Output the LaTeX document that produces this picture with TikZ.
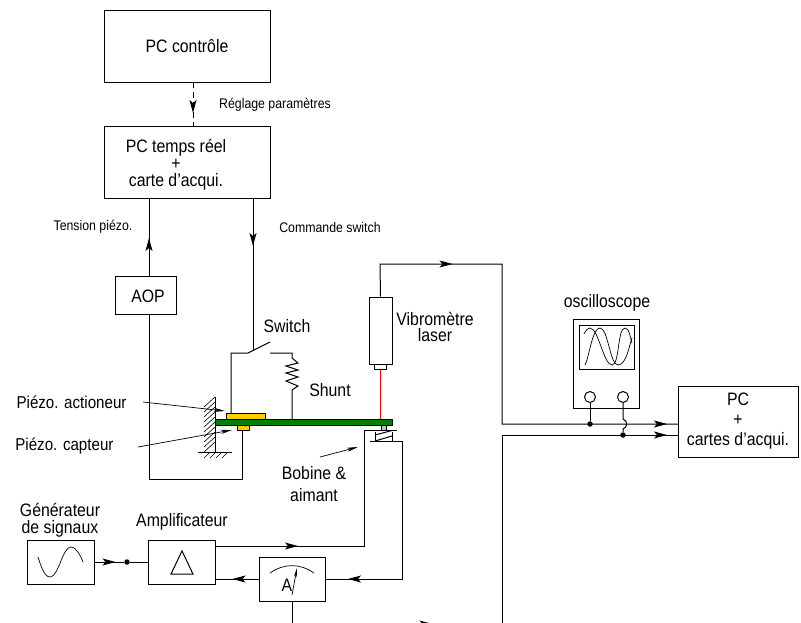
\documentclass[tikz,border=0pt]{standalone}
\usepackage{fontspec}
\setmainfont[FakeStretch=0.88]{Liberation Sans}
\usetikzlibrary{arrows.meta, decorations.markings}
\definecolor{piezo}{HTML}{FFCC00}
\definecolor{beamgreen}{HTML}{008000}

\begin{document}
\begin{tikzpicture}[
                x=1pt, y=-1pt, line width=1pt,
                >={Stealth[length=13pt, width=7pt, inset=3pt]},
                box/.style={rectangle, draw, inner sep=0pt, font=\fontsize{18}{17}\selectfont, align=center},
                txt/.style={inner sep=0pt, font=\fontsize{18}{16.5}\selectfont, align=center},
                small/.style={inner sep=0pt, font=\fontsize{14}{14}\selectfont},
                dot/.style={circle, fill=black, inner sep=0pt, minimum size=5.5pt},
                probe/.style={circle, draw, inner sep=0pt, minimum size=11pt},
                flow/.style={postaction={decorate, decoration={markings, mark=at position #1 with {\arrow{>}}}}},
                thin arrow/.style={line width=0.7pt, -{Stealth[length=11pt, width=4pt, inset=3pt]}}
            ]
                \useasboundingbox (0,0) rectangle (801,622);
                \clip (0,0) rectangle (801,622);

                % blocks
                \node[box, minimum width=166pt, minimum height=72pt] (pc_ctrl) at (187,46) {PC contrôle};
                \node[box, minimum width=166pt, minimum height=72pt] (pc_rt) at (187,162) {};
                \node[txt, font=\fontsize{18}{17}\selectfont] (pc_rt_txt) at (176,165) {PC temps réel\\+\\carte d’acqui.};
                \node[box, minimum width=61pt, minimum height=38pt] (aop) at (145.5,295) {};
                \node[txt] (aop_txt) at (148,296) {AOP};
                \node[box, minimum width=120pt, minimum height=71pt, font=\fontsize{18}{20}\selectfont] (pc_acq) at (738,421.5) {PC\\+\\cartes d’acqui.};
                \node[box, minimum width=67pt, minimum height=44pt] (gen) at (60.5,562) {};
                \node[box, minimum width=67pt, minimum height=44pt] (ampli) at (181.5,562) {};
                \node[box, minimum width=66pt, minimum height=44pt] (meter) at (292,579) {};
                \node[box, minimum width=23pt, minimum height=67pt] (laser) at (380.5,330.5) {};
                \node[box, minimum width=12pt, minimum height=5pt] (nozzle) at (380,366.5) {};
                \node[box, minimum width=66pt, minimum height=89pt] (scope) at (606,363.5) {};
                \node[box, minimum width=55pt, minimum height=44pt] (screen) at (606.5,347) {};
                \node[probe] (probe1) at (590,397) {};
                \node[probe] (probe2) at (623,397) {};
                \node[dot] (dot_gen) at (127,562) {};
                \node[dot] (dot1) at (590,424) {};
                \node[dot] (dot2) at (623,435) {};

                % beam and patches
                \node[box, fill=beamgreen, minimum width=177pt, minimum height=6pt] (beam) at (303.5,422) {};
                \node[box, fill=piezo, minimum width=39pt, minimum height=6pt] (piezo_act) at (245.5,416) {};
                \node[box, fill=piezo, minimum width=12pt, minimum height=5pt] (piezo_cap) at (243,427.5) {};
                \node[box, fill=black!25, line width=0.5pt, minimum width=5pt, minimum height=5pt] (core) at (383.5,427.5) {};

                % labels
                \node[small] (lbl_reg) at (275,105) {Réglage paramètres};
                \node[small] (lbl_tens) at (93,227) {Tension piézo.};
                \node[small] (lbl_cmd) at (330,227) {Commande switch};
                \node[txt] (lbl_switch) at (287,326) {Switch};
                \node[txt] (lbl_shunt) at (330,390) {Shunt};
                \node[txt] (lbl_laser) at (435,327) {Vibromètre\\laser};
                \node[txt] (lbl_scope) at (607,303) {oscilloscope};
                \node[txt, anchor=east, font=\fontsize{17.2}{17}\selectfont] (lbl_act) at (127,402) {Piézo. actioneur};
                \node[txt, anchor=east, font=\fontsize{17.2}{17}\selectfont] (lbl_cap) at (114,446) {Piézo. capteur};
                \node[txt, font=\fontsize{18}{22}\selectfont] (lbl_coil) at (314,484) {Bobine \&\\aimant};
                \node[txt] (lbl_gen) at (60,520) {Générateur\\de signaux};
                \node[txt] (lbl_ampli) at (182,522) {Amplificateur};
                \node[txt] (lbl_a) at (287,585) {A};

                % junction points
                \coordinate (rt_left) at (149,198);
                \coordinate (rt_right) at (253,198);
                \coordinate (aop_top) at (149,276);
                \coordinate (aop_bot) at (149,314);
                \coordinate (sw_left) at (248,353);
                \coordinate (sw_blade) at (270,342);
                \coordinate (sw_right) at (270,353);
                \coordinate (shunt_top) at (292,353);
                \coordinate (shunt_bot) at (292,419);
                \coordinate (act_top) at (231,413);
                \coordinate (cap_bot) at (242,430);
                \coordinate (amp_out) at (215,546);
                \coordinate (amp_in) at (215,579);
                \coordinate (in1) at (678,424);
                \coordinate (in2) at (678,435);
                \coordinate (coil_top) at (397,430);
                \coordinate (coil_bot) at (370,441);

                % wiring
                \draw[dashed, dash pattern=on 6pt off 4pt, flow=31pt] (193,82) -- (193,126);
                \draw[flow=38pt] (aop_top) -- (rt_left);
                \draw (aop_bot) -- (149,479) -- (242,479) -- (cap_bot);
                \draw[flow=48pt] (rt_right) -- (253,350);
                \draw (act_top) -- (231,353) -- (sw_left) -- (sw_blade);
                \draw (sw_right) -- (shunt_top) -- (292,358) -- (298,363) -- (286,366) -- (298,370) -- (286,373) -- (298,377) -- (286,381) -- (298,386) -- (292,390) -- (shunt_bot);
                \draw[flow=105pt, flow=-11pt] (laser.north) -- (380,264) -- (502,264) -- (502,424) -- (in1);
                \draw[flow=-11pt] (502,624) -- (502,435) -- (in2);
                \draw[flow=163pt] (meter.south) -- (292,624) -- (502,624);
                \draw[red] (nozzle.south) -- (380,419);
                \draw[flow=21pt] (gen.east) -- (dot_gen);
                \draw (dot_gen) -- (ampli.west);
                \draw[flow=83pt] (amp_out) -- (364,546) -- (364,430) -- (coil_top);
                \draw[flow=224pt] (coil_bot) -- (402,441) -- (402,579) -- (meter.east);
                \draw[flow=26pt] (meter.west) -- (amp_in);
                \draw (probe1) -- (dot1);
                \draw (probe2) -- (623,419) .. controls (628,421) and (628,427) .. (623,429) -- (dot2);

                % pointers
                \draw[thin arrow] (143,402) -- (225,411);
                \draw[thin arrow] (138,447) -- (232,430);
                \draw[thin arrow] (320,457) -- (358,447);

                % wall and ground
                \draw (215,397) -- (215,452);
                \draw (198,452) -- (232,452);
                \foreach \y in {397,402,...,442} {
                    \draw[line width=0.6pt] (215,\y) -- (204,\y+10);
                }
                \foreach \x in {210,216,222,228} {
                    \draw[line width=0.6pt] (\x,452) -- (\x-6,458);
                }

                % coil
                \draw (375,432) -- (375,441) (392,432) -- (392,441);
                \draw (375,435) -- (392,430.5) (375,441) -- (392,436);

                % symbols
                \draw[line width=0.7pt] (38,557) to[out=-70,in=180,looseness=0.7] (50,577) to[out=0,in=180,looseness=0.6] (71,547) to[out=0,in=110,looseness=0.7] (83,562);
                \draw (171,574) -- (193,574) -- (182,551) -- cycle;
                \draw[line width=0.7pt] (270,573) to[out=35,in=145] (314,573);
                \draw[line width=0.7pt, -{Stealth[length=9pt, width=3pt]}] (292,595) -- (297,568);
                \draw[line width=0.7pt] (584,334) to[out=70,in=180,looseness=0.7] (590,328) to[out=0,in=180,looseness=0.5] (612,365) to[out=0,in=180,looseness=0.5] (625,328) to[out=0,in=110,looseness=0.7] (632,343);
                \draw[line width=0.7pt] (585,365) to[out=60,in=180,looseness=0.5] (600,328) to[out=0,in=180,looseness=0.5] (618,365) to[out=0,in=-110,looseness=0.7] (632,338);
            \end{tikzpicture}
\end{document}
